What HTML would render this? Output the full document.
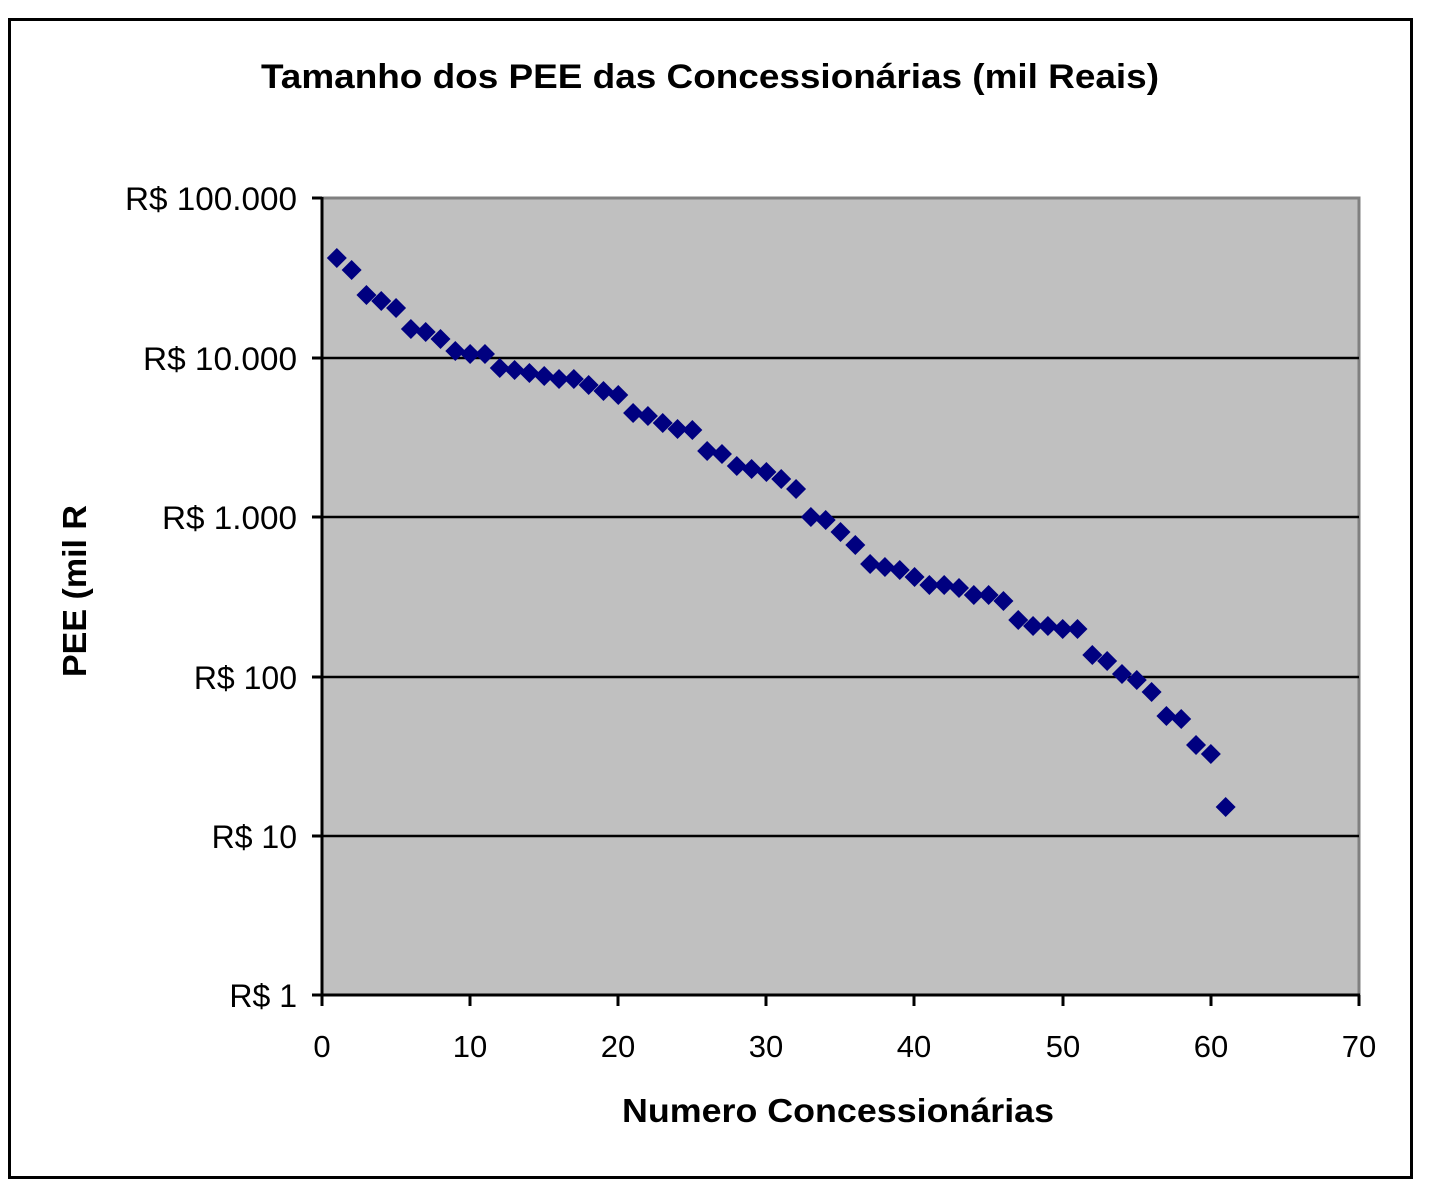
<!DOCTYPE html>
<html><head><meta charset="utf-8"><style>
html,body{margin:0;padding:0;background:#fff;width:1447px;height:1185px;overflow:hidden}
svg{display:block;font-family:"Liberation Sans",Arial,sans-serif}
</style></head><body>
<svg width="1447" height="1185" viewBox="0 0 1447 1185">
<rect x="9.5" y="19.5" width="1402" height="1158" fill="#fff" stroke="#000" stroke-width="3"/>
<text x="710" y="88" text-anchor="middle" font-size="34" font-weight="bold" textLength="898" lengthAdjust="spacingAndGlyphs">Tamanho dos PEE das Concessionárias (mil Reais)</text>
<rect x="322" y="198" width="1037" height="797" fill="#c0c0c0" stroke="#808080" stroke-width="3"/>
<g stroke="#000" stroke-width="2.5">
<line x1="322" y1="358" x2="1359" y2="358"/>
<line x1="322" y1="517" x2="1359" y2="517"/>
<line x1="322" y1="677" x2="1359" y2="677"/>
<line x1="322" y1="836" x2="1359" y2="836"/>
</g>
<g stroke="#000" stroke-width="3">
<line x1="322" y1="197" x2="322" y2="996"/>
<line x1="321" y1="995" x2="1360" y2="995"/>
<line x1="312" y1="198" x2="322" y2="198"/>
<line x1="312" y1="358" x2="322" y2="358"/>
<line x1="312" y1="517" x2="322" y2="517"/>
<line x1="312" y1="677" x2="322" y2="677"/>
<line x1="312" y1="836" x2="322" y2="836"/>
<line x1="312" y1="995" x2="322" y2="995"/>
<line x1="322" y1="995" x2="322" y2="1006"/>
<line x1="470" y1="995" x2="470" y2="1006"/>
<line x1="618" y1="995" x2="618" y2="1006"/>
<line x1="766" y1="995" x2="766" y2="1006"/>
<line x1="914" y1="995" x2="914" y2="1006"/>
<line x1="1063" y1="995" x2="1063" y2="1006"/>
<line x1="1211" y1="995" x2="1211" y2="1006"/>
<line x1="1359" y1="995" x2="1359" y2="1006"/>
</g>
<g font-size="32" text-anchor="end">
<text x="297" y="210" textLength="172" lengthAdjust="spacingAndGlyphs">R$ 100.000</text>
<text x="297" y="370" textLength="154" lengthAdjust="spacingAndGlyphs">R$ 10.000</text>
<text x="297" y="529" textLength="135" lengthAdjust="spacingAndGlyphs">R$ 1.000</text>
<text x="297" y="689">R$ 100</text>
<text x="297" y="848">R$ 10</text>
<text x="297" y="1007">R$ 1</text>
</g>
<g font-size="31" text-anchor="middle">
<text x="322" y="1057">0</text>
<text x="470" y="1057">10</text>
<text x="618" y="1057">20</text>
<text x="766" y="1057">30</text>
<text x="914" y="1057">40</text>
<text x="1063" y="1057">50</text>
<text x="1211" y="1057">60</text>
<text x="1359" y="1057">70</text>
</g>
<text x="838" y="1122" text-anchor="middle" font-size="33" font-weight="bold" textLength="432" lengthAdjust="spacingAndGlyphs">Numero Concessionárias</text>
<text transform="translate(86,591) rotate(-90)" text-anchor="middle" font-size="33" font-weight="bold" textLength="172" lengthAdjust="spacingAndGlyphs">PEE (mil R</text>
<g fill="#000080" id="pts"></g>
</svg>
<script>
var ys=[258,270,295,301,308,329,332,339,351,354,354,368,370,373,376,379,379,385,391,395,413,416,423,429,430,451,454,466,469,472,479,489,517,520,532,545,564,567,570,577,585,585,588,595,595,601,620,626,626,629,629,655,661,674,680,692,716,719,745,754,807];
var g=document.getElementById('pts'),s='';
for(var i=0;i<ys.length;i++){var x=322+14.814*(i+1),y=ys[i];
s+='<polygon points="'+x+','+(y-10)+' '+(x+10)+','+y+' '+x+','+(y+10)+' '+(x-10)+','+y+'"/>';}
g.innerHTML=s;
</script>
</body></html>
